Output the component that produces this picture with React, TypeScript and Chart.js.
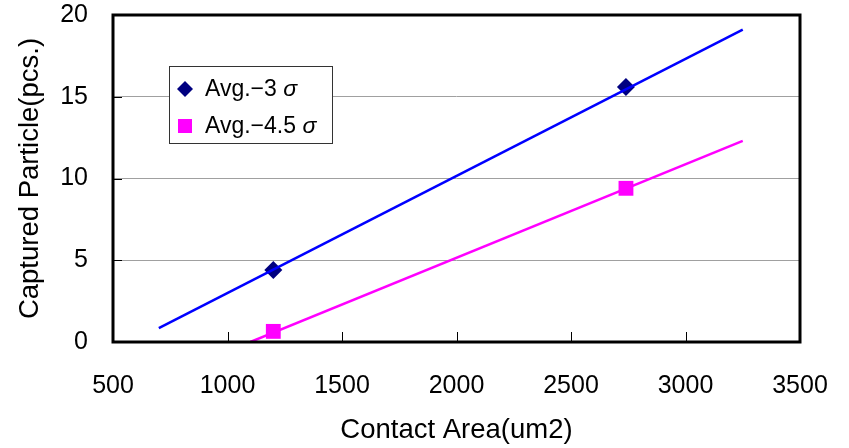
import React, { useEffect, useRef } from "react";
import { Chart, registerables } from "chart.js";

Chart.register(...registerables);

// ---- data ----
const seriesLabels = ["Avg.−3 σ", "Avg.−4.5 σ"];
const contactArea = [1200, 2740];
const avg3Sigma = [4.4, 15.6];
const avg45Sigma = [0.65, 9.4];
// trend lines (endpoints)
const trend3X = [700, 3250];
const trend3Y = [0.85, 19.1];
const trend45X = [1100, 3250];
const trend45Y = [0, 12.3];
// axes
const xMin = 500, xMax = 3500, xStep = 500;
const yMin = 0, yMax = 20, yStep = 5;
const xTitle = "Contact Area(um2)";
const yTitle = "Captured Particle(pcs.)";

const FONT = "'Liberation Sans', Arial, sans-serif";

const toPts = (xs: number[], ys: number[]) => xs.map((x, i) => ({ x, y: ys[i] }));

const decorPlugin = {
  id: "decor",
  afterDraw(chart: any) {
    const { ctx, chartArea: a, scales } = chart;
    const xs = scales.x, ys = scales.y;
    ctx.save();
    // inside tick marks
    ctx.strokeStyle = "#000";
    ctx.lineWidth = 1;
    xs.ticks.forEach((t: any) => {
      const px = Math.round(xs.getPixelForValue(t.value)) + 0.5;
      ctx.beginPath();
      ctx.moveTo(px, a.bottom);
      ctx.lineTo(px, a.bottom - 10);
      ctx.stroke();
    });
    ys.ticks.forEach((t: any) => {
      const py = Math.round(ys.getPixelForValue(t.value)) + 0.5;
      ctx.beginPath();
      ctx.moveTo(a.left, py);
      ctx.lineTo(a.left + 9, py);
      ctx.stroke();
    });
    // frame
    ctx.strokeStyle = "#000";
    ctx.lineWidth = 3;
    ctx.strokeRect(a.left, a.top, a.right - a.left, a.bottom - a.top);

    // legend
    const bx = a.left + 56, by = a.top + 51, bw = 163, bh = 77;
    ctx.fillStyle = "#fff";
    ctx.fillRect(bx, by, bw, bh);
    ctx.strokeStyle = "#333";
    ctx.lineWidth = 1;
    ctx.strokeRect(bx + 0.5, by + 0.5, bw, bh);
    const entries = chart.data.datasets.filter((d: any) => d.inLegend);
    entries.forEach((d: any, i: number) => {
      const cy = by + 23 + i * 37;
      const cx = bx + 16;
      ctx.fillStyle = d.backgroundColor;
      ctx.beginPath();
      if (d.pointStyle === "rectRot") {
        ctx.moveTo(cx - 8, cy);
        ctx.lineTo(cx, cy - 8);
        ctx.lineTo(cx + 8, cy);
        ctx.lineTo(cx, cy + 8);
        ctx.closePath();
        ctx.fill();
      } else {
        ctx.fillRect(cx - 7, cy - 7, 14, 14);
      }
      ctx.fillStyle = "#000";
      ctx.textBaseline = "middle";
      ctx.textAlign = "left";
      const label: string = d.label;
      const cut = label.lastIndexOf(" ");
      const head = label.slice(0, cut + 1);
      const tail = label.slice(cut + 1);
      ctx.font = `23px ${FONT}`;
      ctx.fillText(head, bx + 36, cy + 1);
      const w = ctx.measureText(head).width;
      ctx.font = `italic 23px ${FONT}`;
      ctx.fillText(tail, bx + 36 + w, cy + 1);
    });
    ctx.restore();
  },
};

export default function App() {
  const ref = useRef<HTMLCanvasElement | null>(null);
  useEffect(() => {
    if (!ref.current) return;
    const chart = new Chart(ref.current, {
      type: "scatter",
      data: {
        datasets: [
          {
            label: seriesLabels[0] + " trend",
            data: toPts(trend3X, trend3Y),
            showLine: true,
            borderColor: "#0000ff",
            borderWidth: 2.5,
            pointRadius: 0,
            inLegend: false,
          } as any,
          {
            label: seriesLabels[1] + " trend",
            data: toPts(trend45X, trend45Y),
            showLine: true,
            borderColor: "#ff00ff",
            borderWidth: 2.5,
            pointRadius: 0,
            inLegend: false,
          } as any,
          {
            label: seriesLabels[0],
            data: toPts(contactArea, avg3Sigma),
            pointStyle: "rectRot",
            pointRadius: 9,
            backgroundColor: "#000080",
            borderColor: "#000080",
            borderWidth: 0,
            showLine: false,
            inLegend: true,
          } as any,
          {
            label: seriesLabels[1],
            data: toPts(contactArea, avg45Sigma),
            pointStyle: "rect",
            pointRadius: 10.5,
            backgroundColor: "#ff00ff",
            borderColor: "#ff00ff",
            borderWidth: 0,
            showLine: false,
            inLegend: true,
          } as any,
        ],
      },
      options: {
        animation: false,
        responsive: false,
        events: [],
        layout: { padding: { left: 0, right: 49, top: 15, bottom: 0 } },
        plugins: { legend: { display: false }, tooltip: { enabled: false } },
        scales: {
          x: {
            type: "linear",
            min: xMin,
            max: xMax,
            afterFit: (s: any) => {
              s.height = 106;
              s.paddingLeft = 0;
              s.paddingRight = 0;
            },
            ticks: {
              stepSize: xStep,
              color: "#000",
              font: { family: FONT, size: 25 },
              padding: 29,
              maxRotation: 0,
              callback: (v: any) => String(v),
            },
            grid: { display: true, drawOnChartArea: false, drawTicks: false },
            border: { display: false },
            title: {
              display: true,
              text: xTitle,
              color: "#000",
              font: { family: FONT, size: 27.5 },
              padding: { top: 0, bottom: 1 },
            },
          },
          y: {
            type: "linear",
            min: yMin,
            max: yMax,
            afterFit: (s: any) => {
              s.width = 113;
              s.paddingTop = 0;
              s.paddingBottom = 0;
            },
            ticks: {
              stepSize: yStep,
              color: "#000",
              font: { family: FONT, size: 25 },
              padding: 25,
              callback: (v: any) => String(v),
            },
            grid: { color: "#a0a0a0", lineWidth: 1, drawTicks: false },
            border: { display: false },
            title: {
              display: true,
              text: yTitle,
              color: "#000",
              font: { family: FONT, size: 27.5 },
              padding: { top: 14, bottom: 0 },
            },
          },
        },
      } as any,
      plugins: [decorPlugin],
    });
    return () => chart.destroy();
  }, []);
  return (
    <div style={{ position: "fixed", left: 0, top: 0, width: 849, height: 448, background: "#fff" }}>
      <canvas ref={ref} width={849} height={448} />
    </div>
  );
}
